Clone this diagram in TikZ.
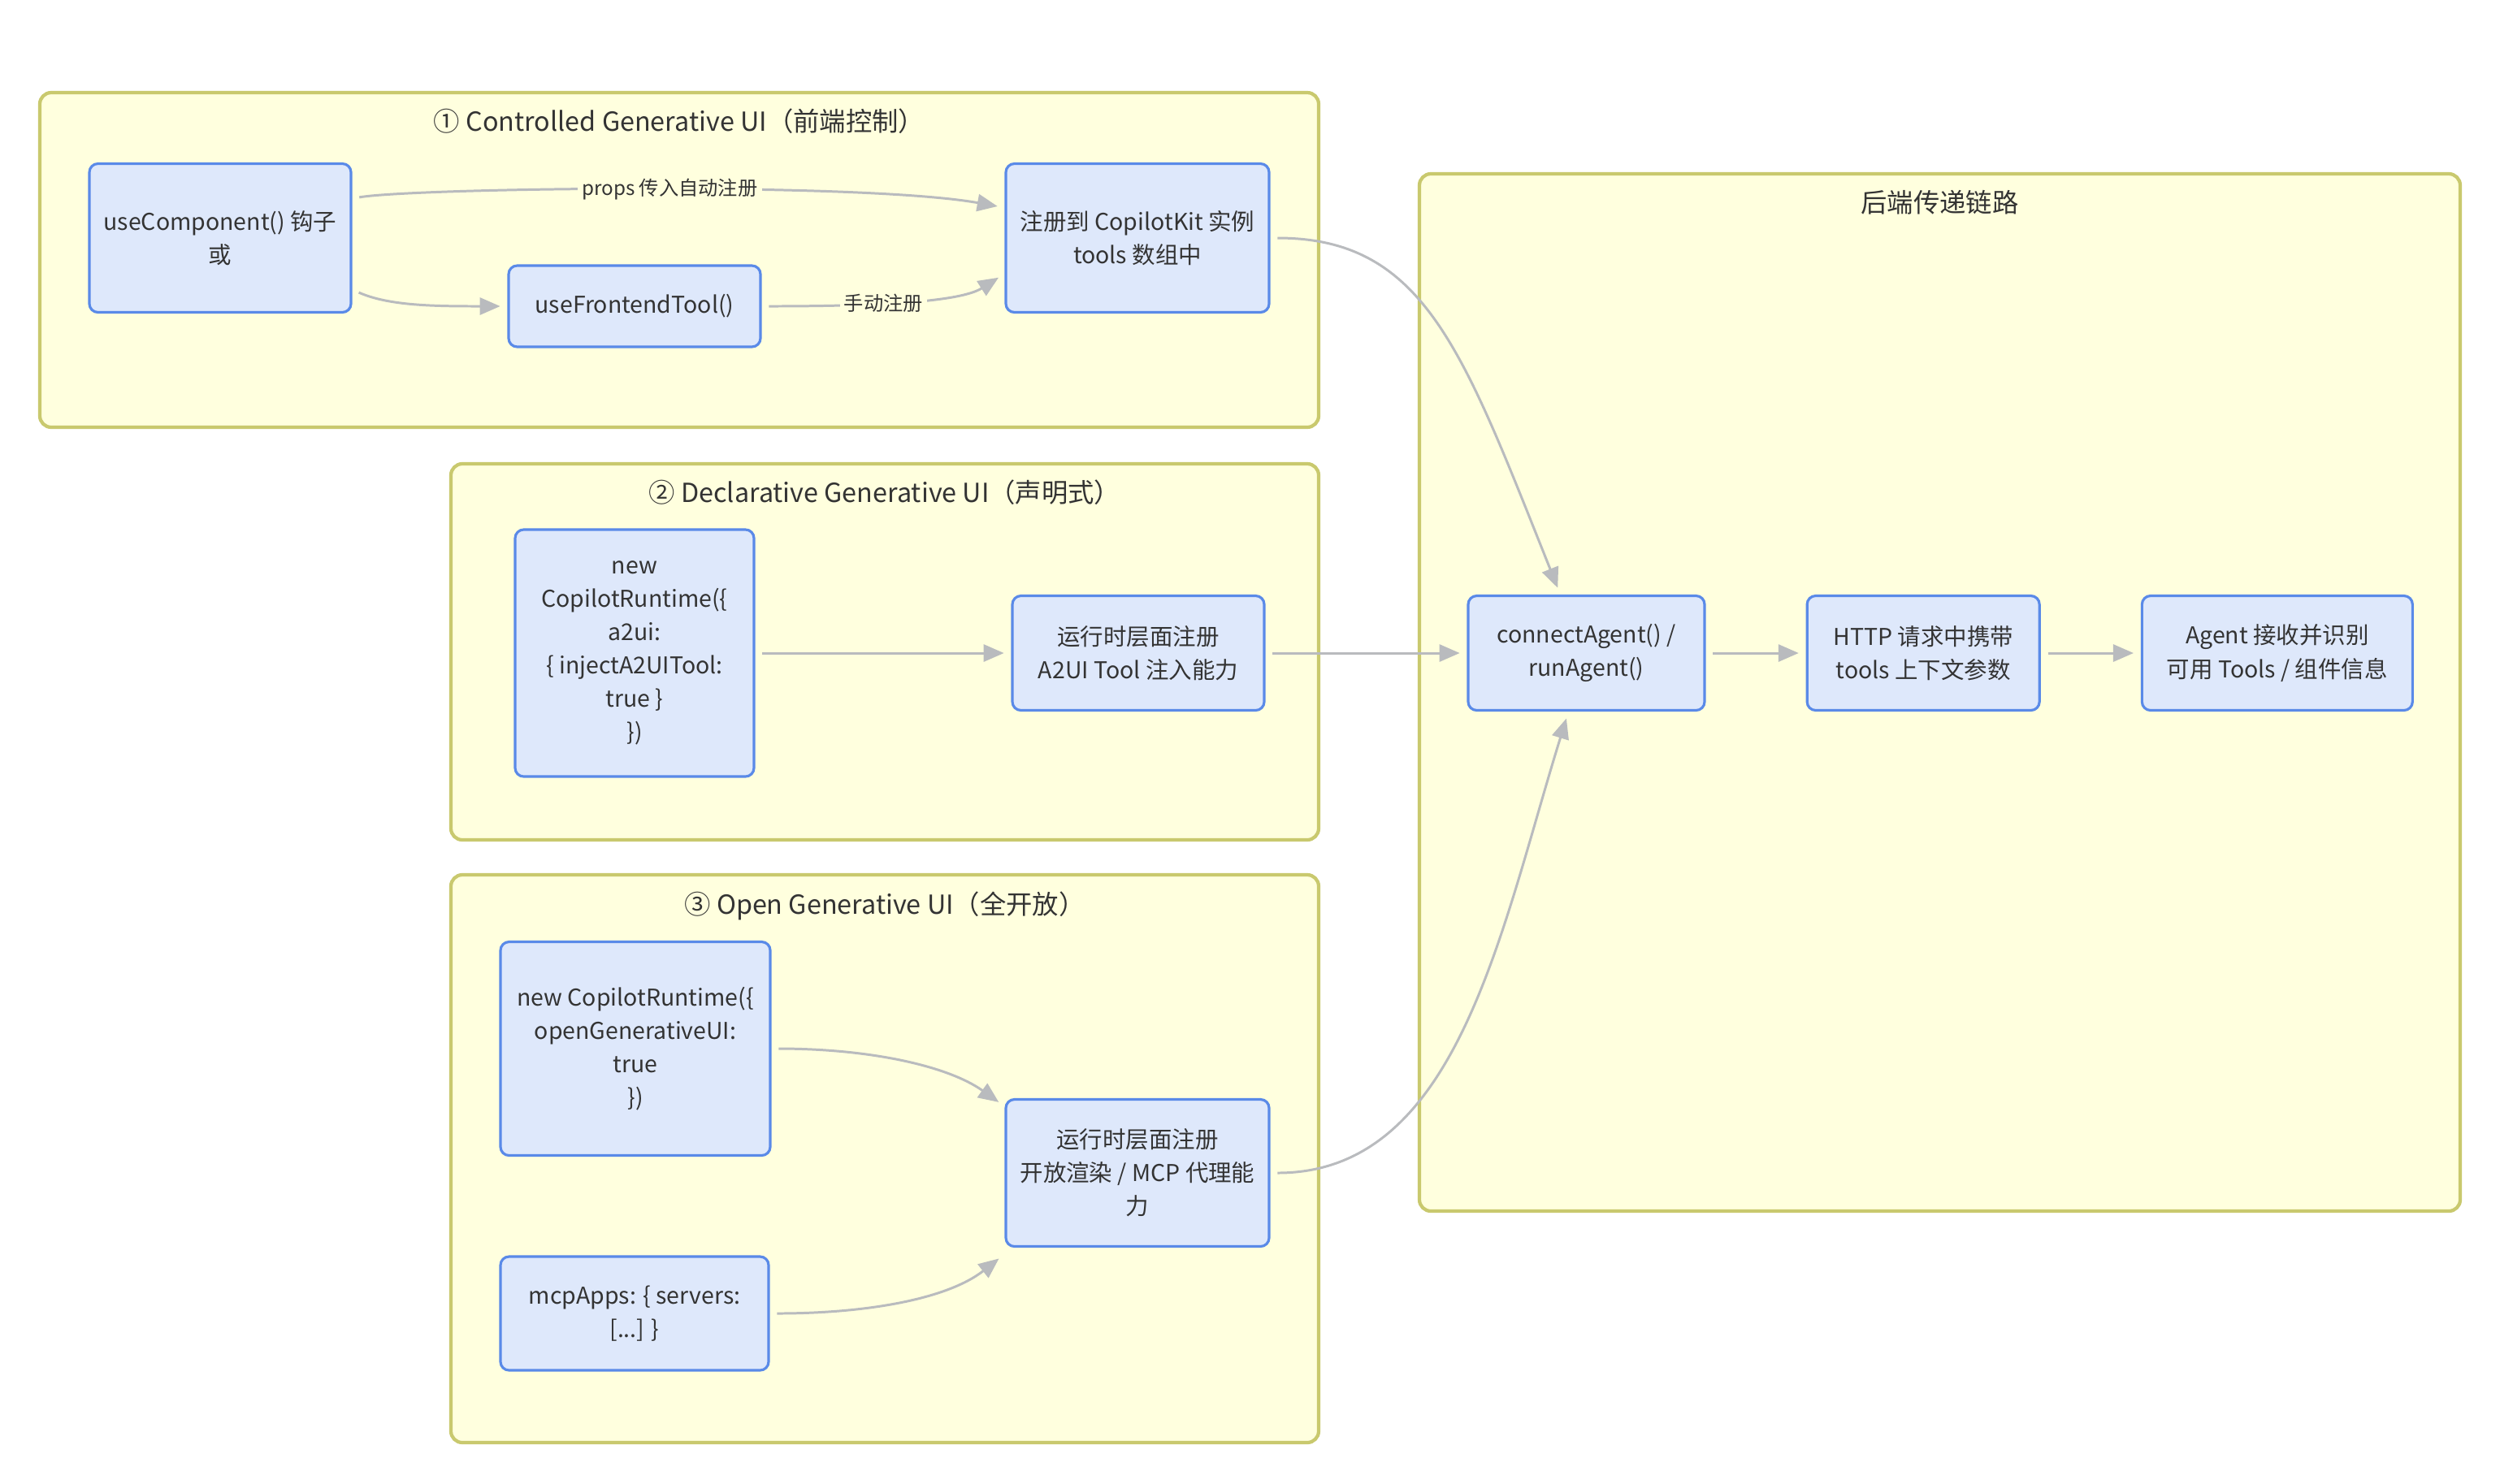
\documentclass[tikz,border=0pt]{standalone}
\usepackage{fontspec}
\setmainfont{Noto Sans CJK SC}
\usepackage{tikz}
\usetikzlibrary{arrows.meta,positioning,fit}
\definecolor{clFill}{HTML}{FFFFDE}
\definecolor{clDraw}{HTML}{C9C96E}
\definecolor{boxFill}{HTML}{DEE8FB}
\definecolor{boxDraw}{HTML}{5A8AE8}
\definecolor{edgeGray}{HTML}{B9BBBE}
\definecolor{txtDark}{HTML}{333333}
\tikzset{
  cluster/.style={rectangle, rounded corners=4pt, draw=clDraw, fill=clFill, line width=1.2pt, inner sep=0pt},
  cltitle/.style={font=\fontsize{9.2}{11}\selectfont, text=txtDark},
  box/.style={rectangle, rounded corners=3pt, draw=boxDraw, fill=boxFill, line width=0.9pt, align=center, text=txtDark, font=\fontsize{8.1}{11.7}\selectfont, inner sep=2pt},
  elabel/.style={fill=clFill, font=\fontsize{6.9}{8}\selectfont, text=txtDark, inner sep=1.5pt},
  arrow/.style={-{Triangle[length=0.25cm,width=0.21cm]}, line width=0.85pt, draw=edgeGray, shorten >=2.5pt, shorten <=2.5pt}
}
\begin{document}
\begin{tikzpicture}
\useasboundingbox (0,0) rectangle (30.77,-18.26);
% groups
\node[cluster, fit={(0.49,-1.14) (16.23,-5.26)}] (front) {};
\node[cluster, fit={(5.55,-5.71) (16.23,-10.34)}] (decl) {};
\node[cluster, fit={(5.55,-10.77) (16.23,-17.76)}] (openui) {};
\node[cluster, fit={(17.47,-2.14) (30.28,-14.91)}] (backend) {};
\node[cltitle] at ([yshift=-0.37cm]front.north) {① Controlled Generative UI（前端控制）};
\node[cltitle] at ([yshift=-0.37cm]decl.north) {② Declarative Generative UI（声明式）};
\node[cltitle] at ([yshift=-0.40cm]openui.north) {③ Open Generative UI（全开放）};
\node[cltitle] at ([yshift=-0.37cm]backend.north) {后端传递链路};
% front end
\node[box, minimum width=3.22cm, minimum height=1.83cm] (usecomp) at (2.71,-2.93) {useComponent() 钩子\\或};
\node[box, minimum width=3.10cm, minimum height=1.00cm] (fetool) at (7.81,-3.77) {useFrontendTool()};
\node[box, minimum width=3.24cm, minimum height=1.83cm] (register) at (14.00,-2.93) {注册到 CopilotKit 实例\\tools 数组中};
% declarative
\node[box, minimum width=2.94cm, minimum height=3.04cm] (a2uirt) at (7.81,-8.04) {new\\CopilotRuntime(\{\\a2ui:\\\{ injectA2UITool:\\true \}\\\})};
\node[box, minimum width=3.10cm, minimum height=1.41cm] (a2uireg) at (14.01,-8.04) {运行时层面注册\\A2UI Tool 注入能力};
% open
\node[box, minimum width=3.32cm, minimum height=2.63cm] (openrt) at (7.82,-12.91) {new CopilotRuntime(\{\\openGenerativeUI:\\true\\\})};
\node[box, minimum width=3.30cm, minimum height=1.40cm] (mcpapps) at (7.81,-16.17) {mcpApps: \{ servers:\\{[...]} \}};
\node[box, minimum width=3.24cm, minimum height=1.81cm] (openreg) at (14.00,-14.44) {运行时层面注册\\开放渲染 / MCP 代理能\\力};
% backend chain
\node[box, minimum width=2.91cm, minimum height=1.41cm] (connect) at (19.525,-8.04) {connectAgent() /\\runAgent()};
\node[box, minimum width=2.86cm, minimum height=1.41cm, right=1.23cm of connect] (http) {HTTP 请求中携带\\tools 上下文参数};
\node[box, minimum width=3.33cm, minimum height=1.41cm, right=1.23cm of http] (agent) {Agent 接收并识别\\可用 Tools / 组件信息};
% edges
\draw[arrow] ([yshift=0.485cm]usecomp.east) .. controls +(0.7,0.13) and +(-1.8,0.32) .. ([yshift=0.375cm]register.west) node[elabel, pos=0.53] {props 传入自动注册};
\draw[arrow] ([yshift=-0.635cm]usecomp.east) .. controls +(0.45,-0.2) and +(-0.9,0) .. (fetool.west);
\draw[arrow] (fetool.east) .. controls +(1.4,0) and +(-0.55,-0.35) .. ([yshift=-0.44cm]register.west) node[elabel, pos=0.4] {手动注册};
\draw[arrow] (register.east) .. controls +(1.9,0) and +(-1.2,3.0) .. ([xshift=-0.32cm]connect.north);
\draw[arrow] (a2uirt) -- (a2uireg);
\draw[arrow] (a2uireg) -- (connect);
\draw[arrow] (openrt.east) .. controls +(1.2,0) and +(-0.7,0.5) .. ([yshift=0.82cm]openreg.west);
\draw[arrow] (mcpapps.east) .. controls +(1.2,0) and +(-0.7,-0.55) .. ([yshift=-1.0cm]openreg.west);
\draw[arrow] (openreg.east) .. controls +(2.3,0) and +(-0.85,-2.74) .. ([xshift=-0.22cm]connect.south);
\draw[arrow] (connect) -- (http);
\draw[arrow] (http) -- (agent);
\end{tikzpicture}
\end{document}
